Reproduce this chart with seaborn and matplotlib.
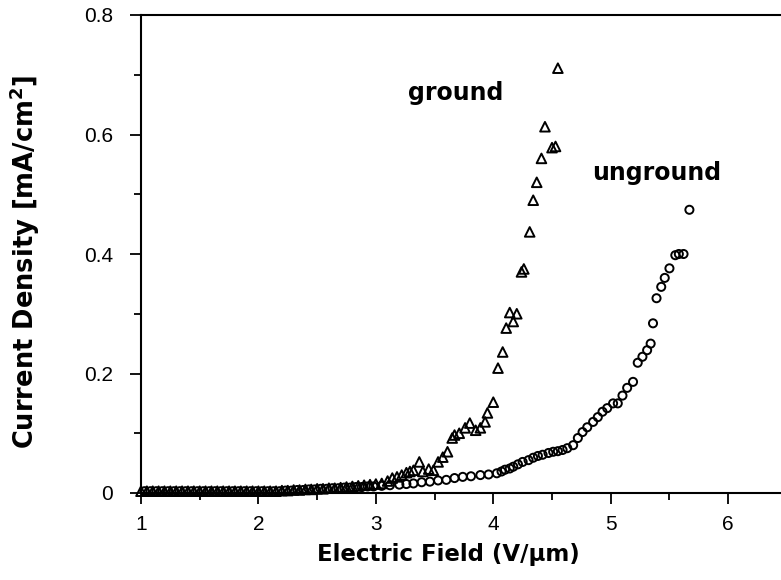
import matplotlib
matplotlib.use("Agg")
import matplotlib.pyplot as plt
import matplotlib.ticker as mticker
import pandas as pd
import seaborn as sns

# ground (triangles)
ground_field = [1.00, 1.05, 1.10, 1.15, 1.20, 1.25, 1.30, 1.35, 1.40, 1.45,
                1.50, 1.55, 1.60, 1.65, 1.70, 1.75, 1.80, 1.85, 1.90, 1.95,
                2.00, 2.05, 2.10, 2.15, 2.20, 2.25, 2.30, 2.35, 2.40, 2.45,
                2.50, 2.55, 2.60, 2.65, 2.70, 2.75, 2.80, 2.85, 2.90, 2.95,
                3.00, 3.05, 3.10, 3.14, 3.18, 3.22, 3.26, 3.29, 3.32, 3.37,
                3.40, 3.45, 3.49, 3.53, 3.57, 3.61, 3.65, 3.67, 3.71, 3.76,
                3.80, 3.85, 3.89, 3.93, 3.95, 4.00, 4.04, 4.08, 4.11, 4.14,
                4.17, 4.20, 4.24, 4.26, 4.31, 4.34, 4.37, 4.41, 4.44, 4.50,
                4.53, 4.55]
ground_current = [0.003, 0.003, 0.003, 0.003, 0.003, 0.003, 0.003, 0.003, 0.003, 0.003,
                  0.003, 0.003, 0.003, 0.003, 0.003, 0.003, 0.003, 0.003, 0.003, 0.003,
                  0.003, 0.003, 0.003, 0.003, 0.004, 0.004, 0.005, 0.005, 0.006, 0.006,
                  0.007, 0.007, 0.008, 0.008, 0.009, 0.010, 0.011, 0.012, 0.013, 0.014,
                  0.015, 0.016, 0.020, 0.025, 0.027, 0.030, 0.034, 0.036, 0.038, 0.052,
                  0.036, 0.040, 0.038, 0.052, 0.060, 0.069, 0.092, 0.097, 0.100, 0.109,
                  0.117, 0.105, 0.109, 0.119, 0.134, 0.152, 0.209, 0.236, 0.276, 0.302,
                  0.287, 0.300, 0.370, 0.375, 0.437, 0.490, 0.520, 0.560, 0.613, 0.578,
                  0.580, 0.711]

# unground (circles)
unground_field = [1.03, 1.08, 1.13, 1.18, 1.23, 1.28, 1.33, 1.38, 1.43, 1.48,
                  1.53, 1.58, 1.63, 1.68, 1.73, 1.78, 1.83, 1.88, 1.93, 1.98,
                  2.03, 2.08, 2.13, 2.18, 2.23, 2.28, 2.33, 2.38, 2.43, 2.48,
                  2.53, 2.58, 2.63, 2.68, 2.73, 2.78, 2.83, 2.88, 2.93, 2.98,
                  3.05, 3.12, 3.20, 3.26, 3.32, 3.39, 3.46, 3.53, 3.60, 3.67,
                  3.74, 3.81, 3.89, 3.96, 4.03, 4.07, 4.10, 4.14, 4.17, 4.21,
                  4.25, 4.30, 4.34, 4.38, 4.42, 4.47, 4.51, 4.55, 4.59, 4.63,
                  4.68, 4.72, 4.76, 4.80, 4.85, 4.89, 4.93, 4.97, 5.02, 5.06,
                  5.10, 5.14, 5.19, 5.23, 5.27, 5.31, 5.34, 5.36, 5.39, 5.43,
                  5.46, 5.50, 5.55, 5.58, 5.62, 5.67]
unground_current = [0.003, 0.003, 0.003, 0.003, 0.003, 0.003, 0.003, 0.003, 0.003, 0.003,
                    0.003, 0.003, 0.003, 0.003, 0.003, 0.003, 0.003, 0.003, 0.003, 0.003,
                    0.003, 0.003, 0.003, 0.003, 0.004, 0.004, 0.005, 0.005, 0.006, 0.006,
                    0.007, 0.007, 0.008, 0.008, 0.009, 0.009, 0.010, 0.010, 0.011, 0.011,
                    0.012, 0.013, 0.014, 0.015, 0.016, 0.018, 0.019, 0.021, 0.022, 0.025,
                    0.027, 0.028, 0.030, 0.031, 0.033, 0.036, 0.039, 0.041, 0.044, 0.048,
                    0.052, 0.055, 0.059, 0.062, 0.064, 0.067, 0.069, 0.070, 0.072, 0.075,
                    0.080, 0.092, 0.102, 0.110, 0.119, 0.127, 0.136, 0.142, 0.150, 0.150,
                    0.163, 0.176, 0.186, 0.218, 0.228, 0.239, 0.250, 0.284, 0.326, 0.345,
                    0.360, 0.376, 0.398, 0.400, 0.400, 0.474]

x_ticks = [1, 2, 3, 4, 5, 6]
y_ticks = [0, 0.2, 0.4, 0.6, 0.8]
y_tick_labels = ["0", "0.2", "0.4", "0.6", "0.8"]

sns.set_style("ticks", {"axes.edgecolor": "black", "text.color": "black",
                        "axes.labelcolor": "black", "xtick.color": "black",
                        "ytick.color": "black"})
plt.rcParams['font.family'] = ['Liberation Sans', 'DejaVu Sans']

fig = plt.figure(figsize=(7.81, 5.80), dpi=100)
ax = fig.add_axes([141 / 781, 87 / 580, 640 / 781, 478 / 580])

g = pd.DataFrame({"field": ground_field, "current": ground_current})
u = pd.DataFrame({"field": unground_field, "current": unground_current})

sns.scatterplot(data=g, x="field", y="current", marker="^", s=48,
                facecolors="none", edgecolor="black", linewidth=1.4,
                clip_on=False, ax=ax, zorder=3)
sns.scatterplot(data=u, x="field", y="current", marker="o", s=34,
                facecolors="none", edgecolor="black", linewidth=1.4,
                clip_on=False, ax=ax, zorder=3)

ax.set_xlim(1, 6.45)
ax.set_ylim(0, 0.8)
ax.set_xticks(x_ticks)
ax.set_yticks(y_ticks)
ax.set_yticklabels(y_tick_labels)
ax.xaxis.set_minor_locator(mticker.MultipleLocator(0.5))
ax.yaxis.set_minor_locator(mticker.MultipleLocator(0.1))
ax.tick_params(which="major", direction="out", length=8, width=1.3, labelsize=15, pad=8)
ax.tick_params(axis="y", which="major", pad=12)
ax.tick_params(which="minor", direction="out", length=5, width=1.3)
ax.spines["right"].set_visible(False)
for s in ["left", "top", "bottom"]:
    ax.spines[s].set_linewidth(1.5)
ax.set_xlabel("")
ax.set_ylabel("")

lab = dict(fontweight="bold", family="DejaVu Sans", color="black")
fig.text(448 / 781, 1 - 555 / 580, "Electric Field (V/\u03bcm)", ha="center", va="center",
         fontsize=16.5, **lab)
fig.text(25 / 781, 1 - 262 / 580, r"Current Density [mA/cm$^\mathbf{2}$]",
         rotation=90, ha="center", va="center", fontsize=18.5, **lab)

ax.text(3.27, 0.669, "ground", ha="left", va="center", fontsize=17, **lab)
ax.text(4.84, 0.536, "unground", ha="left", va="center", fontsize=17, **lab)

fig.savefig("out.png", dpi=100)
